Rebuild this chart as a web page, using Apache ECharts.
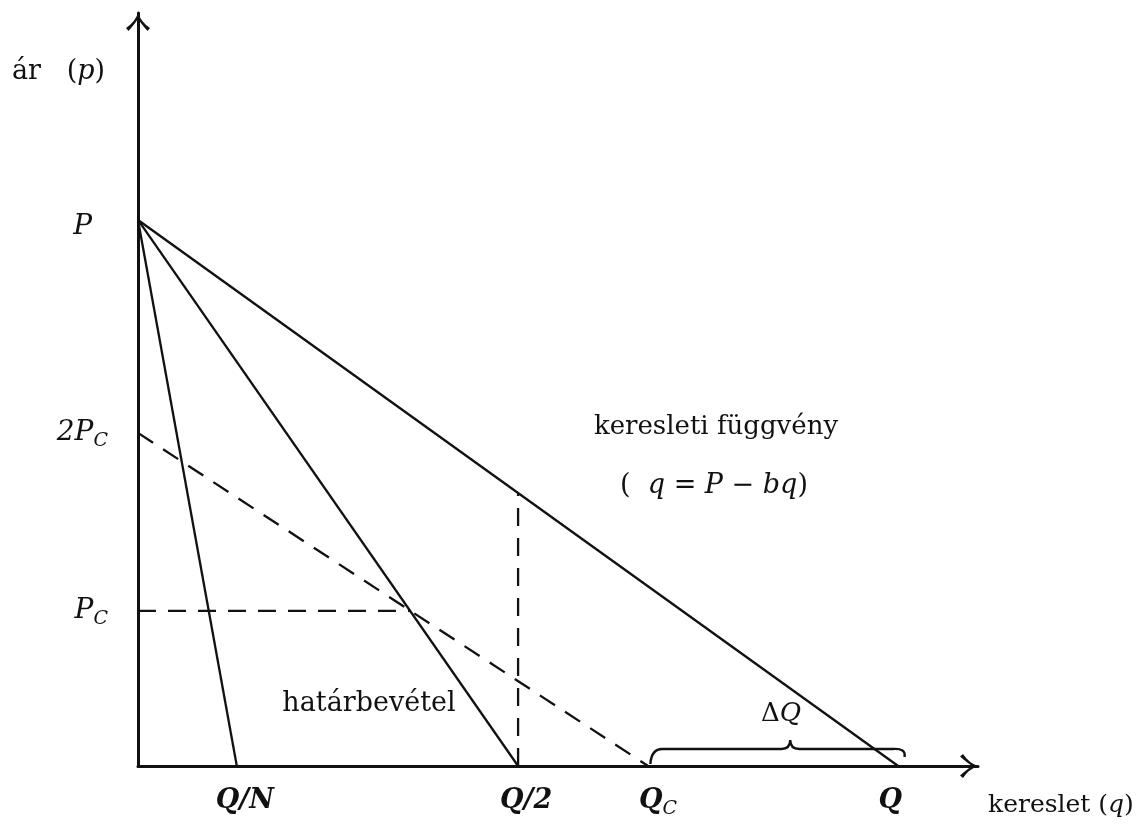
<!DOCTYPE html>
<html>
<head>
<meta charset="utf-8">
<script src="https://cdn.jsdelivr.net/npm/echarts@6/dist/echarts.min.js"></script>
<style>
  html, body { margin: 0; padding: 0; background: #fff; }
  #chart { width: 1140px; height: 832px; }
</style>
</head>
<body>
<div id="chart"></div>
<script>
// Linear demand curve with the marginal revenue lines (price p vs. demand q)
const priceMax = 100;        // P: price intercept of the demand curve
const quantityMax = 100;     // Q: quantity at zero price
const qOverN = 13;           // Q/N
const qHalf = 50;            // Q/2
const qComp = 67.1;          // Q_C
const pComp = 28.4;          // P_C
const pComp2 = 61;           // 2P_C
const pCompEnd = 35.9;       // end of the P_C guide (on the Q/2 line)
const demandAtHalf = 50;     // demand price above Q/2
const deltaQBrace = [67.4, 100.3, 85.8];  // from, to, tip of the ΔQ bracket

const xTickValues = [qOverN, qHalf, qComp, quantityMax];
const xTickLabels = ['Q/N', 'Q/2', 'Q_C', 'Q'];
const yTickValues = [pComp, pComp2, priceMax];
const yTickLabels = ['P_C', '2P_C', 'P'];

const demandLine = [[0, priceMax], [quantityMax, 0]];
const halfLine = [[0, priceMax], [qHalf, 0]];
const nLine = [[0, priceMax], [qOverN, 0]];
const compLine = [[0, pComp2], [qComp, 0]];
const pCompGuide = [[0, pComp], [pCompEnd, pComp]];
const halfGuide = [[qHalf, 0], [qHalf, demandAtHalf]];

const INK = '#111';
const SERIF = '"DejaVu Serif", "Liberation Serif", serif';

// horizontal nudges of the quantity labels (left, right padding in px)
const xLabelPad = { 'Q/N': [0, 0, 0, 16], 'Q/2': [0, 0, 0, 16], 'Q_C': [0, 0, 0, 20], 'Q': [0, 16, 0, 0] };

const qBase = { fontFamily: SERIF, fontStyle: 'italic', fontWeight: 'bold', fontSize: 27, color: INK, lineHeight: 30 };
const subBase = { fontFamily: SERIF, fontStyle: 'italic', fontSize: 19, color: INK, lineHeight: 19, padding: [16, 0, 0, 0] };

const xRich = { sub: subBase };
xTickLabels.forEach((t, i) => { xRich['q' + i] = Object.assign({}, qBase, { padding: xLabelPad[t] }); });

function mathLabel(txt, key) {
  const parts = txt.split('_');
  let s = '{' + key + '|' + parts[0] + '}';
  if (parts[1]) s += '{sub|' + parts[1] + '}';
  return s;
}

const chevron = 'path://M12,0 Q15,9 24,15 L21.5,18 Q14,9.5 12,5.5 Q10,9.5 2.5,18 L0,15 Q9,9 12,0 Z';

const chart = echarts.init(document.getElementById('chart'), null, { renderer: 'canvas' });

const solid = { color: INK, width: 2.3 };
const dashed = { color: INK, width: 2.3, type: [18, 12] };

function lineSeries(data, style) {
  return { type: 'line', data: data, symbol: 'none', silent: true, lineStyle: style, z: 3 };
}

chart.setOption({
  animation: false,
  backgroundColor: '#fff',
  grid: { left: 138, right: 162, top: 13, bottom: 66, containLabel: false, outerBoundsMode: 'none' },
  xAxis: {
    type: 'value', min: 0, max: 110.5,
    splitLine: { show: false },
    axisTick: { show: false },
    axisLine: {
      show: true, onZero: true,
      lineStyle: { color: INK, width: 3 },
      symbol: ['none', chevron], symbolSize: [24, 18], symbolOffset: [0, -9]
    },
    axisLabel: {
      customValues: xTickValues,
      margin: 20,
      formatter: v => {
        const i = xTickValues.indexOf(v);
        return mathLabel(xTickLabels[i], 'q' + i);
      },
      rich: xRich
    }
  },
  yAxis: {
    type: 'value', min: 0, max: 137.9,
    splitLine: { show: false },
    axisTick: { show: false },
    axisLine: {
      show: true,
      lineStyle: { color: INK, width: 3 },
      symbol: ['none', chevron], symbolSize: [24, 18], symbolOffset: [0, -9]
    },
    axisLabel: {
      customValues: yTickValues,
      margin: 30,
      formatter: v => {
        const t = yTickLabels[yTickValues.indexOf(v)];
        return mathLabel(t, t === 'P' ? 'pTop' : 'p');
      },
      rich: {
        p: { fontFamily: SERIF, fontStyle: 'italic', fontSize: 28, color: INK, lineHeight: 30 },
        pTop: { fontFamily: SERIF, fontStyle: 'italic', fontSize: 28, color: INK, lineHeight: 30, padding: [14, 16, 0, 0] },
        sub: subBase
      }
    }
  },
  series: [
    lineSeries(demandLine, solid),
    lineSeries(halfLine, solid),
    lineSeries(nLine, solid),
    lineSeries(compLine, dashed),
    lineSeries(pCompGuide, dashed),
    lineSeries(halfGuide, dashed),
    {
      type: 'custom', silent: true, z: 4,
      data: [deltaQBrace],
      renderItem: function (params, api) {
        const a = api.coord([api.value(0), 0]);
        const b = api.coord([api.value(1), 0]);
        const t = api.coord([api.value(2), 0]);
        const y0 = a[1];
        const yb = y0 - 17;
        const d = [
          'M', a[0], y0 - 2,
          'Q', a[0] + 1, yb, a[0] + 12, yb,
          'L', t[0] - 9, yb,
          'Q', t[0], yb, t[0], yb - 9,
          'Q', t[0], yb, t[0] + 9, yb,
          'L', b[0] - 8, yb,
          'Q', b[0] + 6, yb - 1, b[0] + 4, yb + 8
        ].join(' ');
        return {
          type: 'path',
          shape: { pathData: d },
          style: { stroke: INK, fill: 'none', lineWidth: 2.4 }
        };
      }
    }
  ],
  graphic: [
    {
      type: 'text', x: 12, y: 72,
      style: {
        text: '{r|ár   (}{i|p}{r|)}', textVerticalAlign: 'middle',
        rich: {
          r: { fontFamily: SERIF, fontSize: 27, fill: INK },
          i: { fontFamily: SERIF, fontStyle: 'italic', fontSize: 27, fill: INK }
        }
      }
    },
    {
      type: 'text', x: 716, y: 427,
      style: { text: 'keresleti függvény', fontFamily: SERIF, fontSize: 26, fill: INK, textAlign: 'center', textVerticalAlign: 'middle' }
    },
    {
      type: 'text', x: 714, y: 486,
      style: {
        text: '{r|(  }{i|q}{r| = }{i|P}{r| − }{i|bq}{r|)}', textAlign: 'center', textVerticalAlign: 'middle',
        rich: {
          r: { fontFamily: SERIF, fontSize: 27, fill: INK },
          i: { fontFamily: SERIF, fontStyle: 'italic', fontSize: 27, fill: INK }
        }
      }
    },
    {
      type: 'text', x: 369, y: 704,
      style: { text: 'határbevétel', fontFamily: SERIF, fontSize: 27, fill: INK, textAlign: 'center', textVerticalAlign: 'middle' }
    },
    {
      type: 'text', x: 781, y: 714,
      style: {
        text: '{r|Δ}{i|Q}', textAlign: 'center', textVerticalAlign: 'middle',
        rich: {
          r: { fontFamily: SERIF, fontSize: 26, fill: INK },
          i: { fontFamily: SERIF, fontStyle: 'italic', fontSize: 26, fill: INK }
        }
      }
    },
    {
      type: 'text', x: 988, y: 805,
      style: {
        text: '{r|kereslet (}{i|q}{r|)}', textVerticalAlign: 'middle',
        rich: {
          r: { fontFamily: SERIF, fontSize: 25, fill: INK },
          i: { fontFamily: SERIF, fontStyle: 'italic', fontSize: 25, fill: INK }
        }
      }
    }
  ]
});
</script>
</body>
</html>
